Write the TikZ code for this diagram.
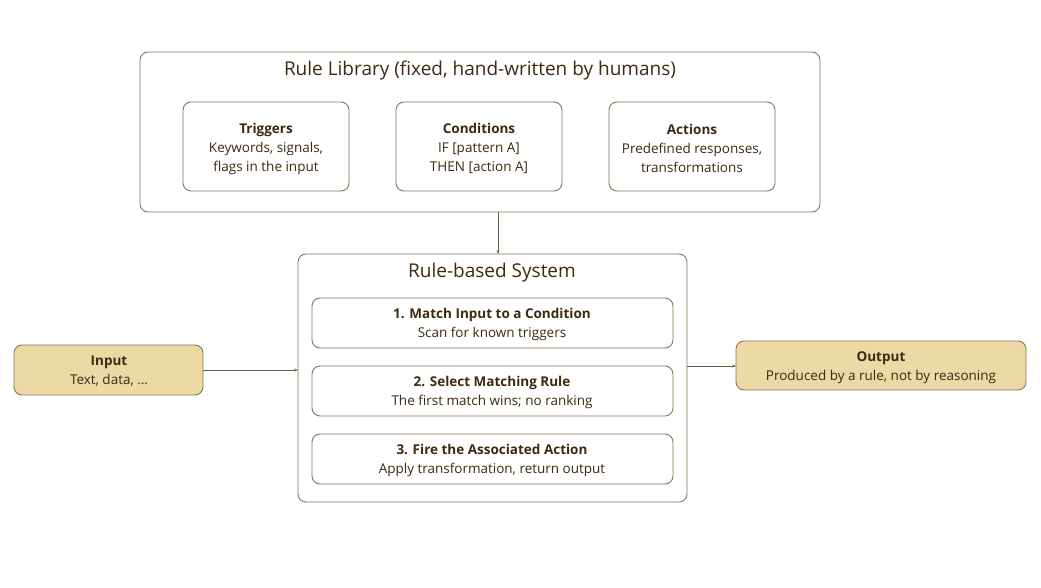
\documentclass[tikz,border=0pt]{standalone}
\usepackage{fontspec}
\setmainfont{Open Sans}
\usetikzlibrary{arrows.meta}
\definecolor{ink}{HTML}{3D2A10}
\definecolor{edge}{HTML}{8A7456}
\definecolor{sand}{HTML}{EDD9A6}
\tikzset{
  box/.style={draw=edge, line width=0.9pt, rounded corners=8pt, fill=white},
  fbox/.style={draw=edge, line width=0.9pt, rounded corners=8pt, fill=sand},
  txt/.style={text=ink, font=\fontsize{13.5}{19}\selectfont, align=center, inner sep=0pt},
  ttl/.style={text=ink, font=\fontsize{19}{23}\selectfont, inner sep=0pt},
  conn/.style={draw=edge!80!black, line width=0.8pt, -{Stealth[length=4pt,width=3pt]}}
}
\begin{document}
\begin{tikzpicture}[x=1pt,y=-1pt]
\useasboundingbox (0,0) rectangle (1041,587);
% Rule library
\draw[box] (140,52) rectangle (820,212);
\node[ttl] (libt) at (480,71) {Rule Library (fixed, hand-written by humans)};
\coordinate (libbot) at (498,212);
\draw[box] (183,102) rectangle (349,191);
\node[txt] (trig) at (266,148.5) {\textbf{Triggers}\\Keywords, signals,\\flags in the input};
\draw[box] (396,102) rectangle (562,191);
\node[txt] (cond) at (479,148.5) {\textbf{Conditions}\\IF [pattern A]\\THEN [action A]};
\draw[box] (609,102) rectangle (775,191);
\node[txt] (act) at (692,148.5) {\textbf{Actions}\\Predefined responses,\\transformations};
% System
\draw[box] (298,254) rectangle (687,502);
\coordinate (systop) at (498,254);
\coordinate (sysleft) at (298,370);
\coordinate (sysright) at (687,366);
\node[ttl] (syst) at (492,273) {Rule-based System};
\draw[box] (312,298) rectangle (673,348);
\node[txt] (s1) at (492,324) {\textbf{1. Match Input to a Condition}\\Scan for known triggers};
\draw[box] (312,366) rectangle (673,416);
\node[txt] (s2) at (492,392) {\textbf{2. Select Matching Rule}\\The first match wins; no ranking};
\draw[box] (312,434) rectangle (673,484);
\node[txt] (s3) at (492,460) {\textbf{3. Fire the Associated Action}\\Apply transformation, return output};
% Input / Output
\draw[fbox] (14,345) rectangle (203,395);
\coordinate (inr) at (203,370);
\node[txt] (inp) at (109,371) {\textbf{Input}\\Text, data, \dots};
\draw[fbox] (736,341) rectangle (1026,390);
\coordinate (outl) at (736,366);
\node[txt] (outp) at (881,367.5) {\textbf{Output}\\Produced by a rule, not by reasoning};
% connectors
\draw[conn] (libbot) -- (systop);
\draw[conn] (inr) -- (sysleft);
\draw[conn] (sysright) -- (outl);
\end{tikzpicture}
\end{document}
